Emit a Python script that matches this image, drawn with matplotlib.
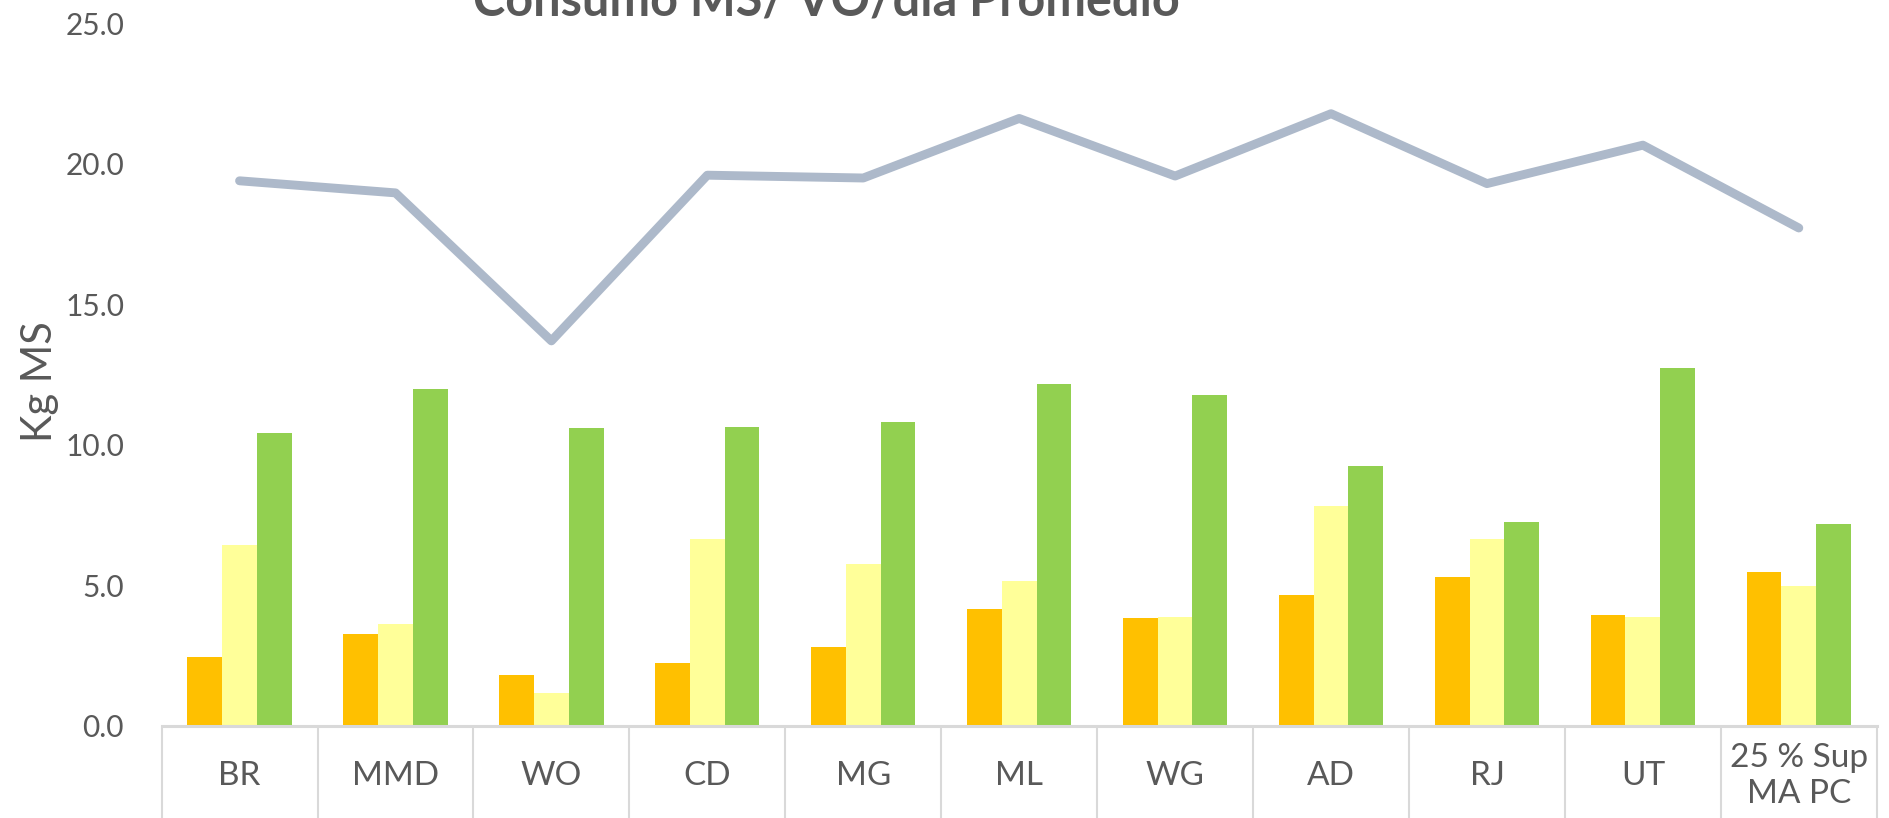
import matplotlib.pyplot as plt
import numpy as np

# categorias y valores
categorias = ["BR", "MMD", "WO", "CD", "MG", "ML", "WG", "AD", "RJ", "UT",
              "25 % Sup\nMA PC"]
serie_naranja = [2.45, 3.26, 1.80, 2.23, 2.79, 4.16, 3.82, 4.64, 5.30, 3.94, 5.47]
serie_amarilla = [6.44, 3.60, 1.16, 6.65, 5.75, 5.15, 3.86, 7.83, 6.63, 3.87, 4.98]
serie_verde = [10.43, 12.00, 10.60, 10.64, 10.82, 12.15, 11.76, 9.24, 7.25, 12.74, 7.18]
total = [19.40, 18.97, 13.70, 19.60, 19.50, 21.62, 19.57, 21.79, 19.30, 20.67, 17.72]

titulo = "Consumo MS/ VO/día Promedio"
gris_txt = "#595959"

fig = plt.figure(figsize=(18.9, 8.18), dpi=100)
ax = fig.add_axes([0.0855, 0.1130, 0.9075, 0.8582])

x = np.arange(len(categorias))
w = 0.223
ax.bar(x - w, serie_naranja, w, color="#FFC000", zorder=2)
ax.bar(x, serie_amarilla, w, color="#FFFF99", zorder=2)
ax.bar(x + w, serie_verde, w, color="#92D050", zorder=2)
ax.plot(x, total, color="#ADB9CA", lw=6.4, solid_capstyle="round",
        solid_joinstyle="round", zorder=3)

ax.set_xlim(-0.5, len(categorias) - 0.5)
ax.set_ylim(0, 25)
ax.set_yticks(np.arange(0, 26, 5))
ax.set_yticklabels([f"{v:.1f}" for v in np.arange(0, 26, 5)],
                   fontfamily="Lato")
ax.tick_params(axis="y", length=0, pad=27, labelsize=21.5, labelcolor=gris_txt)

# separadores de categoria (ticks mayores) y etiquetas (ticks menores)
ax.set_xticks(np.arange(-0.5, len(categorias), 1.0))
ax.set_xticklabels([])
ax.set_xticks(x, minor=True)
ax.set_xticklabels(categorias, minor=True, fontfamily="Lato", fontsize=24,
                   color=gris_txt, linespacing=1.25)
ax.tick_params(axis="x", which="major", length=67, width=1.5, color="#D9D9D9")
ax.tick_params(axis="x", which="minor", length=0, pad=36)
for t in ax.get_xticklabels(minor=True):
    t.set_va("center")

for s in ["left", "right", "top"]:
    ax.spines[s].set_visible(False)
ax.spines["bottom"].set_color("#D9D9D9")
ax.spines["bottom"].set_linewidth(2.2)

ax.set_ylabel("Kg MS", fontfamily="Lato", fontsize=30, color=gris_txt)
ax.yaxis.set_label_coords(-0.060, 0.49)

fig.text(0.437, 1 - 15 / 818, titulo, ha="center", va="baseline",
         fontfamily="Lato", fontweight="bold", fontsize=35, color=gris_txt)

fig.savefig("out.png", dpi=100)
